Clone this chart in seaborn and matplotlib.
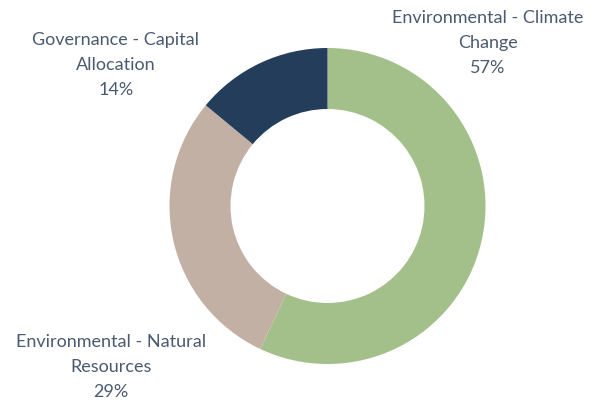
import matplotlib
matplotlib.use("Agg")
import matplotlib.pyplot as plt
import seaborn as sns

# data
categories = ["Environmental - Climate\nChange",
              "Environmental - Natural\nResources",
              "Governance - Capital\nAllocation"]
shares = [57, 29, 14]
colors = ["#A3C08A", "#C3B0A4", "#243D5A"]

# where the labels sit (pixels, origin bottom-left)
label_pos = [(488, 395), (111, 71), (116, 373)]

sns.set_theme(style="white")
plt.rcParams["font.family"] = ["Lato", "DejaVu Sans"]

fig = plt.figure(figsize=(6.03, 4.05), dpi=100)
ax = fig.add_axes([0, 0, 1, 1])

ax.pie(shares, colors=colors, startangle=90, counterclock=False,
       center=(327.5, 199), radius=158,
       wedgeprops=dict(width=61, edgecolor="none"))

# pie() resets the limits, so set them afterwards
ax.set_xlim(0, 603)
ax.set_ylim(0, 405)
ax.set_aspect("equal")
ax.axis("off")

for cat, val, (x, y) in zip(categories, shares, label_pos):
    ax.text(x, y, f"{cat}\n{val}%", ha="center", va="top",
            fontsize=13, color="#4A5A70", linespacing=1.68)

fig.savefig("out.png", dpi=100)
